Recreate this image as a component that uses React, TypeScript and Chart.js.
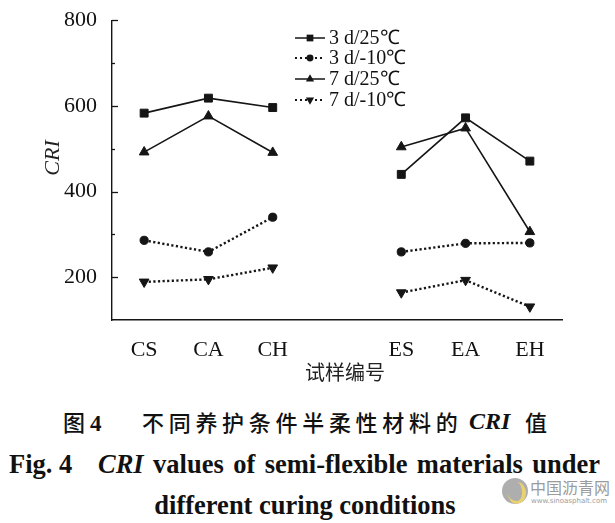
import React, { useEffect, useRef } from 'react';
import { Chart, registerables } from 'chart.js';

Chart.register(...registerables);

// ---- data ----
const categories = ['CS', 'CA', 'CH', '', 'ES', 'EA', 'EH'];
const seriesLabels = ['3 d/25℃', '3 d/-10℃', '7 d/25℃', '7 d/-10℃'];
const series3d25 = [583, 618, 596, null, 440, 572, 471];
const series3dm10 = [286, 259, 340, null, 259, 279, 280];
const series7d25 = [492, 576, 491, null, 504, 548, 306];
const series7dm10 = [189, 195, 222, null, 164, 193, 131];
const yMajorTicks = [200, 400, 600, 800];
const yMin = 100;
const yMax = 800;
const yStep = 100;

const INK = '#151515';
const SERIF = '"Liberation Serif", "Times New Roman", serif';
const CJK = '"Noto Sans CJK SC", sans-serif';

function drawMarker(ctx: CanvasRenderingContext2D, style: string, rotation: number, x: number, y: number, r: number) {
  ctx.beginPath();
  if (style === 'rect') {
    const s = r * Math.SQRT1_2;
    ctx.rect(x - s, y - s, 2 * s, 2 * s);
  } else if (style === 'circle') {
    ctx.arc(x, y, r, 0, Math.PI * 2);
  } else {
    let rad = (rotation * Math.PI) / 180;
    ctx.moveTo(x + Math.sin(rad) * r, y - Math.cos(rad) * r);
    rad += (2 * Math.PI) / 3;
    ctx.lineTo(x + Math.sin(rad) * r, y - Math.cos(rad) * r);
    rad += (2 * Math.PI) / 3;
    ctx.lineTo(x + Math.sin(rad) * r, y - Math.cos(rad) * r);
    ctx.closePath();
  }
  ctx.fill();
}

const decorPlugin = {
  id: 'decor',
  afterDraw(chart: any) {
    const ctx: CanvasRenderingContext2D = chart.ctx;
    const y = chart.scales.y;
    const area = chart.chartArea;
    ctx.save();
    // inward tick marks on the y axis
    ctx.strokeStyle = INK;
    ctx.lineWidth = 1.3;
    y.ticks.forEach((t: any) => {
      if (t.value === yMin) return;
      const py = Math.round(y.getPixelForValue(t.value)) + 0.5;
      const len = yMajorTicks.includes(t.value) ? 6 : 3;
      ctx.beginPath();
      ctx.moveTo(area.left, py);
      ctx.lineTo(area.left + len, py);
      ctx.stroke();
    });

    // axis titles
    ctx.fillStyle = '#222';
    ctx.textAlign = 'center';
    ctx.textBaseline = 'middle';
    ctx.font = `400 20px ${CJK}`;
    ctx.fillText('试样编号', 345, 372);
    ctx.save();
    ctx.translate(53, 158);
    ctx.rotate(-Math.PI / 2);
    ctx.font = `italic 22px ${SERIF}`;
    ctx.fillText('CRI', 0, 0);
    ctx.restore();

    // legend
    const rowY = [38, 58, 79, 100];
    chart.data.datasets.forEach((ds: any, i: number) => {
      const ly = rowY[i];
      ctx.save();
      ctx.strokeStyle = INK;
      ctx.fillStyle = INK;
      const dotted = ds.borderDash && ds.borderDash.length;
      ctx.lineWidth = dotted ? 2 : 1.5;
      ctx.setLineDash(dotted ? [2, 3] : []);
      ctx.beginPath();
      ctx.moveTo(295, ly);
      ctx.lineTo(325, ly);
      ctx.stroke();
      ctx.setLineDash([]);
      drawMarker(ctx, ds.pointStyle, ds.pointRotation || 0, 310, ly, ds.pointRadius * 0.85);
      ctx.fillStyle = '#111';
      ctx.textAlign = 'left';
      ctx.textBaseline = 'middle';
      ctx.font = `20px ${SERIF}`;
      ctx.fillText(ds.label, 329, ly + 1);
      ctx.restore();
    });
    ctx.restore();
  },
};

function makeDataset(label: string, data: (number | null)[], pointStyle: string, dotted: boolean, rotation = 0, radius = 5) {
  return {
    label,
    data,
    borderColor: INK,
    backgroundColor: INK,
    pointBackgroundColor: INK,
    pointBorderColor: INK,
    pointBorderWidth: 1,
    borderWidth: dotted ? 2.4 : 1.6,
    borderDash: dotted ? [2.2, 2.4] : [],
    pointStyle,
    pointRotation: rotation,
    pointRadius: radius,
    spanGaps: false,
    tension: 0,
    fill: false,
  };
}

export default function App() {
  const ref = useRef<HTMLCanvasElement | null>(null);

  useEffect(() => {
    if (!ref.current) return;
    const chart = new Chart(ref.current, {
      type: 'line',
      data: {
        labels: categories,
        datasets: [
          makeDataset(seriesLabels[0], series3d25, 'rect', false, 0, 5.6),
          makeDataset(seriesLabels[1], series3dm10, 'circle', true, 0, 4.1),
          makeDataset(seriesLabels[2], series7d25, 'triangle', false, 0, 5.6),
          makeDataset(seriesLabels[3], series7dm10, 'triangle', true, 180, 5.6),
        ] as any,
      },
      options: {
        animation: false,
        responsive: false,
        maintainAspectRatio: false,
        layout: { padding: { top: 19, right: 53, left: 0, bottom: 0 } },
        plugins: {
          legend: { display: false },
          tooltip: { enabled: false },
          title: { display: false },
        },
        scales: {
          x: {
            type: 'category',
            offset: true,
            grid: { display: false },
            border: { display: true, color: INK, width: 1.4 },
            ticks: {
              autoSkip: false,
              maxRotation: 0,
              color: '#111',
              padding: 9,
              font: { family: SERIF, size: 22 },
            },
            afterFit: (s: any) => {
              s.height = 70;
            },
          },
          y: {
            min: yMin,
            max: yMax,
            grid: { display: false },
            border: { display: true, color: INK, width: 1.4 },
            ticks: {
              stepSize: yStep,
              color: '#111',
              padding: 7,
              font: { family: SERIF, size: 22 },
              callback: (v: any) => (yMajorTicks.includes(Number(v)) ? String(v) : ''),
            },
            afterFit: (s: any) => {
              s.width = 112;
            },
          },
        },
      },
      plugins: [decorPlugin],
    });
    return () => chart.destroy();
  }, []);

  const capSerif: React.CSSProperties = { fontFamily: SERIF, fontWeight: 700, color: '#111' };

  return (
    <div style={{ position: 'absolute', left: 0, top: 0, width: 615, height: 523, background: '#fff', overflow: 'hidden' }}>
      <canvas ref={ref} width={615} height={390} style={{ position: 'absolute', left: 0, top: 0, width: 615, height: 390 }} />
      {/* caption line 1 */}
      <div style={{ position: 'absolute', top: 406, left: 63, fontSize: 22, lineHeight: '30px', fontFamily: CJK, fontWeight: 500, color: '#111', whiteSpace: 'nowrap' }}>
        图 <span style={{ ...capSerif, fontSize: 23 }}>4</span>
      </div>
      <div style={{ position: 'absolute', top: 406, left: 142, fontSize: 22, lineHeight: '30px', fontFamily: CJK, fontWeight: 500, color: '#111', letterSpacing: '4.7px', whiteSpace: 'nowrap' }}>
        不同养护条件半柔性材料的
      </div>
      <div style={{ position: 'absolute', top: 406, left: 469, fontSize: 24, lineHeight: '30px', ...capSerif, fontStyle: 'italic', whiteSpace: 'nowrap' }}>
        CRI
      </div>
      <div style={{ position: 'absolute', top: 406, left: 525, fontSize: 22, lineHeight: '30px', fontFamily: CJK, fontWeight: 500, color: '#111', whiteSpace: 'nowrap' }}>
        值
      </div>
      {/* caption line 2 */}
      <div style={{ position: 'absolute', top: 449, left: 9, fontSize: 26.5, lineHeight: '30px', ...capSerif, whiteSpace: 'nowrap' }}>
        Fig. 4
      </div>
      <div style={{ position: 'absolute', top: 449, left: 98, width: 502, fontSize: 26.5, lineHeight: '30px', ...capSerif, textAlign: 'justify', textAlignLast: 'justify', whiteSpace: 'nowrap' } as React.CSSProperties}>
        <i>CRI</i> values of semi-flexible materials under
      </div>
      {/* caption line 3 */}
      <div style={{ position: 'absolute', top: 490, left: 0, width: 610, textAlign: 'center', fontSize: 26.5, lineHeight: '30px', ...capSerif, whiteSpace: 'nowrap' }}>
        different curing conditions
      </div>
      {/* watermark */}
      <div style={{ position: 'absolute', left: 502, top: 478, width: 26, height: 26, borderRadius: 13, background: '#9a9a9a', opacity: 0.8, overflow: 'hidden' }}>
        <div style={{ position: 'absolute', left: 6, top: 4, width: 18, height: 22, borderRadius: '50%', borderRight: '4px solid #e6c84a', borderBottom: '3px solid #e6c84a', boxSizing: 'border-box' }} />
      </div>
      <div style={{ position: 'absolute', left: 530, top: 477, fontSize: 16, lineHeight: '20px', fontFamily: CJK, color: '#8a8a8a', opacity: 0.85, whiteSpace: 'nowrap' }}>
        中国沥青网
      </div>
      <div style={{ position: 'absolute', left: 531, top: 497, fontSize: 7, lineHeight: '9px', fontFamily: '"DejaVu Sans", sans-serif', color: '#8a8a8a', opacity: 0.85, whiteSpace: 'nowrap' }}>
        www.sinoasphalt.com
      </div>
    </div>
  );
}
